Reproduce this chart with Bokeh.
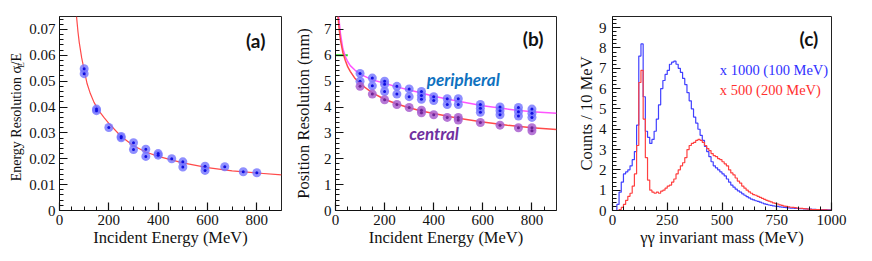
import math
from bokeh.plotting import figure
from bokeh.models import Range1d, FixedTicker, Label, CustomJSTickFormatter
from bokeh.core.properties import value
from bokeh.layouts import row
from bokeh.embed import file_html
from bokeh.resources import INLINE

SERIF = "'Liberation Serif', 'Times New Roman', serif"
BOLD_SANS = "Lato"

# ---------------- panel (a): energy resolution ----------------
energy_a = [100, 100, 150, 150, 200, 250, 250, 300, 300, 350, 350, 400, 400,
            455, 500, 500, 590, 590, 670, 745, 800]
resolution_a = [0.0548, 0.0529, 0.0392, 0.0386, 0.0321, 0.0286, 0.0281, 0.0262, 0.0236,
                0.0237, 0.0209, 0.0220, 0.0214, 0.0200, 0.0188, 0.0168, 0.0171, 0.0155,
                0.0169, 0.0150, 0.0146]
fit_a_energy = [69, 75, 80, 90, 100, 112, 125, 140, 160, 180, 200, 250, 300, 350,
                400, 500, 600, 700, 800, 900]
fit_a_res = [0.075, 0.069, 0.065, 0.059, 0.0543, 0.049, 0.0452, 0.0418, 0.0385, 0.036,
             0.0337, 0.0286, 0.0250, 0.0226, 0.0209, 0.0184, 0.0166, 0.0153, 0.0145, 0.0138]
ylabel_a_parts = ["Energy Resolution \u03c3", "E", "/E"]

# ---------------- panel (b): position resolution ----------------
energy_periph = [100, 100, 150, 150, 200, 200, 200, 250, 250, 300, 300, 350, 350, 350,
                 400, 400, 455, 455, 500, 500, 590, 590, 590, 670, 670, 670,
                 745, 745, 745, 800, 800, 800]
pos_periph = [5.3, 5.0, 5.12, 4.82, 5.0, 4.88, 4.6, 4.8, 4.5, 4.7, 4.4, 4.6, 4.45, 4.3,
              4.4, 4.25, 4.32, 4.1, 4.32, 4.1, 4.1, 3.95, 3.8, 4.0, 3.86, 3.7,
              3.98, 3.82, 3.65, 3.92, 3.76, 3.6]
energy_central = [100, 150, 200, 250, 300, 350, 350, 400, 455, 500, 500, 590, 670, 745, 800, 800]
pos_central = [4.8, 4.5, 4.28, 4.1, 3.98, 3.88, 3.78, 3.7, 3.6, 3.6, 3.5, 3.4, 3.3, 3.2, 3.2, 3.08]
fit_periph_energy = [13, 20, 30, 40, 50, 60, 80, 100, 150, 200, 250, 300, 350, 400,
                     500, 600, 700, 800, 900]
fit_periph_pos = [7.5, 6.85, 6.25, 5.95, 5.75, 5.6, 5.42, 5.27, 5.05, 4.92, 4.78, 4.66,
                  4.54, 4.42, 4.22, 4.05, 3.92, 3.82, 3.76]
fit_central_energy = [10, 15, 20, 30, 40, 50, 60, 80, 100, 150, 200, 250, 300, 350, 400,
                      500, 600, 700, 800, 900]
fit_central_pos = [7.5, 7.0, 6.6, 6.1, 5.8, 5.55, 5.38, 5.1, 4.9, 4.55, 4.3, 4.12, 3.97,
                   3.85, 3.75, 3.57, 3.42, 3.3, 3.2, 3.13]
green_mark_x = [0, 50]
green_mark_y = [6, 6]

# ---------------- panel (c): gamma-gamma invariant mass ----------------
bin_width = 10
counts_100MeV = [
    0, 0, 0.3, 0.9, 1.4, 1.8, 1.9, 2.0, 2.2, 2.5,
    2.9, 4.2, 7.6, 8.2, 5.6, 3.9, 3.6, 3.3, 3.5, 3.9,
    4.5, 5.2, 6.0, 6.4, 6.7, 6.9, 7.2, 7.3, 7.35, 7.2,
    7.0, 6.8, 6.5, 6.2, 5.8, 5.4, 5.0, 4.6, 4.3, 4.0,
    3.7, 3.45, 3.15, 2.9, 2.65, 2.4, 2.2, 2.1, 2.0, 1.9,
    1.8, 1.7, 1.55, 1.4, 1.25, 1.15, 1.05, 0.97, 0.9, 0.82,
    0.75, 0.68, 0.62, 0.56, 0.52, 0.48, 0.45, 0.41, 0.37, 0.33,
    0.3, 0.27, 0.25, 0.23, 0.21, 0.2, 0.18, 0.17, 0.15, 0.14,
    0.13, 0.12, 0.11, 0.1, 0.1, 0.09, 0.09, 0.08, 0.08, 0.07,
    0.07, 0.06, 0.06, 0.05, 0.05, 0.04, 0.04, 0.04, 0.03, 0.03]
counts_200MeV = [
    0, 0, 0, 0.05, 0.15, 0.3, 0.5, 0.7, 0.85, 1.2,
    1.8, 3.2, 6.3, 6.9, 4.5, 2.6, 1.5, 1.0, 0.9, 0.85,
    0.9, 0.85, 0.95, 1.0, 1.1, 1.2, 1.25, 1.4, 1.55, 1.8,
    2.0, 2.2, 2.35, 2.6, 3.0, 3.2, 3.3, 3.35, 3.45, 3.5,
    3.45, 3.35, 3.2, 3.05, 2.95, 2.8, 2.7, 2.65, 2.55, 2.5,
    2.4, 2.3, 2.2, 2.0, 1.85, 1.75, 1.6, 1.45, 1.35, 1.2,
    1.1, 1.0, 0.92, 0.85, 0.78, 0.75, 0.7, 0.65, 0.6, 0.55,
    0.5, 0.46, 0.42, 0.38, 0.35, 0.32, 0.28, 0.25, 0.22, 0.2,
    0.18, 0.16, 0.15, 0.14, 0.12, 0.11, 0.1, 0.09, 0.08, 0.07,
    0.06, 0.05, 0.05, 0.04, 0.04, 0.03, 0.03, 0.03, 0.02, 0.02]

x_ticks_ab = [0, 200, 400, 600, 800]
y_ticks_a = [0, 0.01, 0.02, 0.03, 0.04, 0.05, 0.06, 0.07]
y_ticks_b = [0, 1, 2, 3, 4, 5, 6, 7]
x_ticks_c = [0, 250, 500, 750, 1000]
y_ticks_c = [0, 1, 2, 3, 4, 5, 6, 7, 8, 9]

BLUE_HALO = "#7373ff"
BLUE_CORE = "#1010e0"
PURPLE_HALO = "#a95fcf"
PURPLE_CORE = "#6d2596"
TXT = "#111111"


def style(p, xticks, xminor, yticks, yminor):
    p.outline_line_color = "#222222"
    p.outline_line_width = 1
    p.xgrid.visible = False
    p.ygrid.visible = False
    p.xaxis.ticker = FixedTicker(ticks=xticks, minor_ticks=xminor)
    p.yaxis.ticker = FixedTicker(ticks=yticks, minor_ticks=yminor)
    for ax in (p.xaxis[0], p.yaxis[0]):
        ax.axis_line_color = TXT
        ax.major_tick_in = 8
        ax.major_tick_out = 0
        ax.minor_tick_in = 4
        ax.minor_tick_out = 0
        ax.major_tick_line_color = TXT
        ax.minor_tick_line_color = TXT
        ax.major_tick_line_width = 1.2
        ax.minor_tick_line_width = 1
        ax.major_label_text_font = SERIF
        ax.major_label_text_font_size = "15px"
        ax.major_label_text_color = TXT
        ax.axis_label_text_font = SERIF
        ax.axis_label_text_font_size = "16.5px"
        ax.axis_label_text_font_style = "normal"
        ax.axis_label_text_color = TXT
    p.xaxis.major_label_standoff = 4
    p.xaxis.axis_label_standoff = 0


def panel_label(p, x, y, text):
    p.add_layout(Label(x=x, y=y, text=text, text_font=BOLD_SANS, text_font_style="bold",
                       text_font_size="19px", text_color=TXT,
                       text_align="left", text_baseline="middle"))


H = 255
TOP = 16
BOTTOM = 45

# ---------- y title of (a), drawn in its own narrow strip so it is not clipped ----------
LW = 26
pl = figure(width=LW, height=H, output_backend="svg", toolbar_location=None,
            x_range=Range1d(0, LW), y_range=Range1d(0, H),
            x_axis_type=None, y_axis_type=None,
            min_border_left=0, min_border_right=0, min_border_top=0, min_border_bottom=0)
pl.outline_line_color = None
# anchors in strip pixels (y counted from the bottom); texts end at these anchors
pl.text(x=[16], y=[H - 65], text=[ylabel_a_parts[0]], angle=math.pi / 2,
        text_font=value(SERIF), text_font_size="14px", text_color=TXT,
        text_align="right", text_baseline="middle")
pl.text(x=[20], y=[H - 60], text=[ylabel_a_parts[1]], angle=math.pi / 2,
        text_font=value(SERIF), text_font_size="9px", text_color=TXT,
        text_align="right", text_baseline="middle")
pl.text(x=[16], y=[H - 48], text=[ylabel_a_parts[2]], angle=math.pi / 2,
        text_font=value(SERIF), text_font_size="14px", text_color=TXT,
        text_align="right", text_baseline="middle")

# ---------- (a) ----------
pa = figure(width=290 - LW, height=H, output_backend="svg", toolbar_location=None,
            x_range=Range1d(0, 900), y_range=Range1d(0, 0.075),
            min_border_left=57 - LW, min_border_right=9, min_border_top=TOP,
            min_border_bottom=BOTTOM)
style(pa, x_ticks_ab, [v for v in range(50, 900, 50)],
      y_ticks_a, [k * 0.002 for k in range(1, 38)])
pa.yaxis.formatter = CustomJSTickFormatter(code="return tick == 0 ? '0' : tick.toFixed(2);")
pa.yaxis.major_label_standoff = 4
pa.xaxis.axis_label = "Incident Energy (MeV)"
pa.line(fit_a_energy, fit_a_res, line_color="#ff4a4a", line_width=1.2)
pa.scatter(energy_a, resolution_a, size=9, fill_color=BLUE_HALO, fill_alpha=0.8, line_color=None)
pa.scatter(energy_a, resolution_a, size=3, fill_color=BLUE_CORE, line_color=None)
panel_label(pa, 756, 0.0659, "(a)")

# ---------- (b) ----------
pb = figure(width=283, height=H, output_backend="svg", toolbar_location=None,
            x_range=Range1d(0, 900), y_range=Range1d(0, 7.5),
            min_border_left=42, min_border_right=17, min_border_top=TOP,
            min_border_bottom=BOTTOM)
style(pb, x_ticks_ab, [v for v in range(50, 900, 50)],
      y_ticks_b, [k * 0.2 for k in range(1, 38)])
pb.yaxis.major_label_standoff = 4
pb.yaxis.axis_label_standoff = 8
pb.xaxis.axis_label = "Incident Energy (MeV)"
pb.yaxis.axis_label = "Position Resolution (mm)"
pb.line(green_mark_x, green_mark_y, line_color="#22dd22", line_width=2)
pb.line(fit_periph_energy, fit_periph_pos, line_color="#ff55ff", line_width=1.5)
pb.line(fit_central_energy, fit_central_pos, line_color="#ff4a4a", line_width=1.5)
pb.scatter(energy_periph, pos_periph, size=9, fill_color=BLUE_HALO, fill_alpha=0.8, line_color=None)
pb.scatter(energy_periph, pos_periph, size=3, fill_color=BLUE_CORE, line_color=None)
pb.scatter(energy_central, pos_central, size=9, fill_color=PURPLE_HALO, fill_alpha=0.85, line_color=None)
pb.scatter(energy_central, pos_central, size=3, fill_color=PURPLE_CORE, line_color=None)
pb.add_layout(Label(x=372, y=5.06, text="peripheral", text_font=BOLD_SANS,
                    text_font_style="bold italic", text_font_size="17px", text_color="#0f72c0",
                    text_align="left", text_baseline="middle"))
pb.add_layout(Label(x=300, y=2.96, text="central", text_font=BOLD_SANS,
                    text_font_style="bold italic", text_font_size="17px", text_color="#7030a0",
                    text_align="left", text_baseline="middle"))
panel_label(pb, 763, 6.65, "(b)")

# ---------- (c) ----------
pc = figure(width=299, height=H, output_backend="svg", toolbar_location=None,
            x_range=Range1d(0, 1000), y_range=Range1d(0, 9.55),
            min_border_left=34, min_border_right=41, min_border_top=TOP,
            min_border_bottom=BOTTOM)
style(pc, x_ticks_c, [v for v in range(50, 1000, 50)],
      y_ticks_c, [k * 0.2 for k in range(1, 48)])
pc.yaxis.major_label_standoff = 6
pc.yaxis.axis_label_standoff = 0
pc.xaxis.axis_label = "\u03b3\u03b3 invariant mass (MeV)"
pc.yaxis.axis_label = "Counts / 10 MeV"
edges = [i * bin_width for i in range(len(counts_100MeV) + 1)]
pc.step(edges, counts_100MeV + [counts_100MeV[-1]], mode="after",
        line_color="#4040ff", line_width=1.2)
pc.step(edges, counts_200MeV + [counts_200MeV[-1]], mode="after",
        line_color="#ff4040", line_width=1.2)
pc.add_layout(Label(x=490, y=6.9, text="x 1000 (100 MeV)", text_font=SERIF,
                    text_font_size="14.5px", text_color="#3030ff",
                    text_align="left", text_baseline="middle"))
pc.add_layout(Label(x=490, y=5.95, text="x 500  (200 MeV)", text_font=SERIF,
                    text_font_size="14.5px", text_color="#ff3030",
                    text_align="left", text_baseline="middle"))
panel_label(pc, 854, 8.47, "(c)")

layout = row(pl, pa, pb, pc)
open("out.html", "w").write(file_html(layout, INLINE))
